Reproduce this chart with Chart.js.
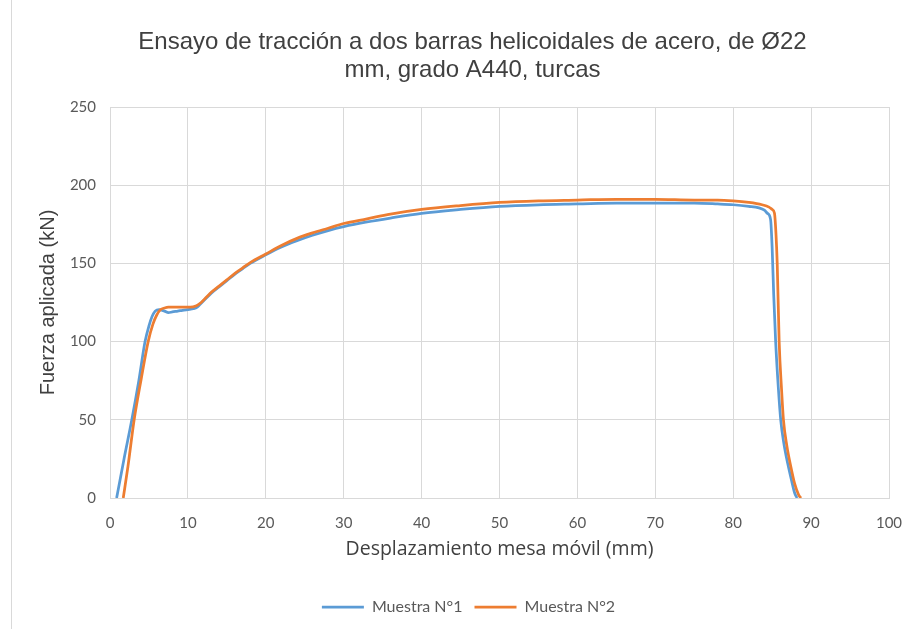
<!DOCTYPE html>
<html>
<head>
<meta charset="utf-8">
<script src="https://cdn.jsdelivr.net/npm/chart.js@4"></script>
<style>
  body { margin: 0; background: #fff; }
  #wrap { position: relative; width: 912px; height: 629px; }
  #edge { position: absolute; left: 11px; top: 0; width: 1px; height: 629px; background: #d9d9d9; }
</style>
</head>
<body>
<div id="wrap">
  <div id="edge"></div>
  <canvas id="grafico" width="912" height="629"></canvas>
</div>
<script>
// Muestra N°1 (azul)
var x1 = [0.85, 1.8, 2.8, 3.7, 4.5, 5.0, 5.4, 5.8, 6.3, 7.0, 7.5, 8.0, 8.7, 9.3, 10.0, 10.7, 11.2, 11.7, 12.3, 13, 14, 15, 16, 17, 18, 20, 22, 24, 26, 28, 30, 33, 36, 40, 45, 50, 55, 60, 65, 70, 75, 78, 80, 82, 83.3, 84.0, 84.4, 84.8, 85.0, 85.2, 85.45, 85.8, 86.1, 86.5, 87.0, 87.5, 87.9, 88.2];
var y1 = [0, 25, 50, 75, 100, 110, 116, 119.5, 120.5, 119.5, 118.5, 119, 119.5, 120, 120.5, 121, 122, 124.5, 127.5, 131, 135, 139, 143, 146.5, 150, 155.5, 160.5, 164.5, 168, 171, 173.5, 176.5, 179, 182, 184.5, 186.5, 187.5, 188, 188.5, 188.5, 188.5, 188, 187.5, 186.5, 185.5, 184, 182, 178, 160, 130, 100, 70, 50, 35, 22, 11, 3, 0];

// Muestra N°2 (naranja)
var x2 = [1.7, 2.3, 3.1, 4.0, 4.9, 5.5, 6.0, 6.5, 7.0, 7.5, 8.5, 9.5, 10.3, 11.1, 11.7, 12.3, 13, 14, 15, 16, 17, 18, 20, 22, 24, 26, 28, 30, 33, 36, 40, 45, 50, 55, 60, 65, 70, 75, 78, 80, 82, 83.7, 84.6, 85.0, 85.3, 85.5, 85.65, 85.9, 86.2, 86.45, 86.9, 87.4, 87.9, 88.4, 88.7];
var y2 = [0, 20, 50, 76, 100, 111, 117, 120.5, 121.5, 122, 122, 122, 122, 123, 125, 128, 131.5, 135.5, 139.5, 143.5, 147, 150.5, 156, 161.5, 166, 169.5, 172.5, 175.5, 178.5, 181.5, 184.5, 187, 189, 190, 190.5, 191, 191, 190.5, 190.5, 190, 189, 187.5, 186, 184.5, 182, 168, 150, 100, 70, 50, 33, 20, 9, 2, 0];

var nombres = ['Muestra N°1', 'Muestra N°2'];
var colores = ['#5B9BD5', '#ED7D31'];

function puntos(xs, ys) {
  return xs.map(function (v, i) { return { x: v, y: ys[i] }; });
}

// mueve titulo y leyenda un poco a la derecha, como en el original
var corrimiento = {
  id: 'corrimiento',
  afterLayout: function (chart) {
    if (chart.titleBlock) { chart.titleBlock.left += 28; chart.titleBlock.right += 28; }
    if (chart.legend) { chart.legend.left += 24; chart.legend.right += 24; }
  }
};

var ctx = document.getElementById('grafico');

var grafico = new Chart(ctx, {
  type: 'scatter',
  data: {
    datasets: [{
      label: nombres[0],
      data: puntos(x1, y1),
      borderColor: colores[0],
      backgroundColor: colores[0],
      borderWidth: 2.75,
      showLine: true,
      pointRadius: 0,
      cubicInterpolationMode: 'monotone',
      order: 1
    }, {
      label: nombres[1],
      data: puntos(x2, y2),
      borderColor: colores[1],
      backgroundColor: colores[1],
      borderWidth: 2.75,
      showLine: true,
      pointRadius: 0,
      cubicInterpolationMode: 'monotone',
      order: 0
    }]
  },
  plugins: [corrimiento],
  options: {
    responsive: false,
    animation: false,
    layout: { padding: { left: 0, right: 23, top: 0, bottom: 4 } },
    plugins: {
      title: {
        display: true,
        text: ['Ensayo de tracción a dos barras helicoidales de acero, de Ø22', 'mm, grado A440, turcas'],
        color: '#404040',
        font: { family: 'Liberation Sans', size: 24, weight: 'normal', lineHeight: 1.1667 },
        padding: { top: 28, bottom: 23 }
      },
      legend: {
        position: 'bottom',
        labels: {
          usePointStyle: true,
          pointStyle: 'line',
          pointStyleWidth: 42,
          boxWidth: 42,
          padding: 12,
          color: '#595959',
          font: { family: 'Lato', size: 16 },
          sort: function (a, b) { return a.datasetIndex - b.datasetIndex; }
        }
      },
      tooltip: { enabled: false }
    },
    scales: {
      x: {
        type: 'linear',
        min: 0,
        max: 100,
        ticks: { stepSize: 10, padding: 16, color: '#595959', font: { family: 'Lato', size: 15 } },
        grid: { color: '#d9d9d9', drawTicks: false },
        border: { color: '#d9d9d9' },
        title: {
          display: true,
          text: 'Desplazamiento mesa móvil (mm)',
          color: '#404040',
          font: { family: 'Open Sans', size: 19.5 },
          padding: { top: 0, bottom: 26 }
        },
        afterFit: function (s) { s.height = 89; s.paddingRight = 0; s.paddingLeft = 0; }
      },
      y: {
        min: 0,
        max: 250,
        ticks: { stepSize: 50, padding: 14, color: '#595959', font: { family: 'Lato', size: 15 } },
        grid: { color: '#d9d9d9', drawTicks: false },
        border: { color: '#d9d9d9' },
        title: {
          display: true,
          text: 'Fuerza aplicada (kN)',
          color: '#404040',
          font: { family: 'Liberation Sans', size: 20 },
          padding: { top: 36, bottom: 0 }
        },
        afterFit: function (s) { s.width = 110; }
      }
    }
  }
});
</script>
</body>
</html>
